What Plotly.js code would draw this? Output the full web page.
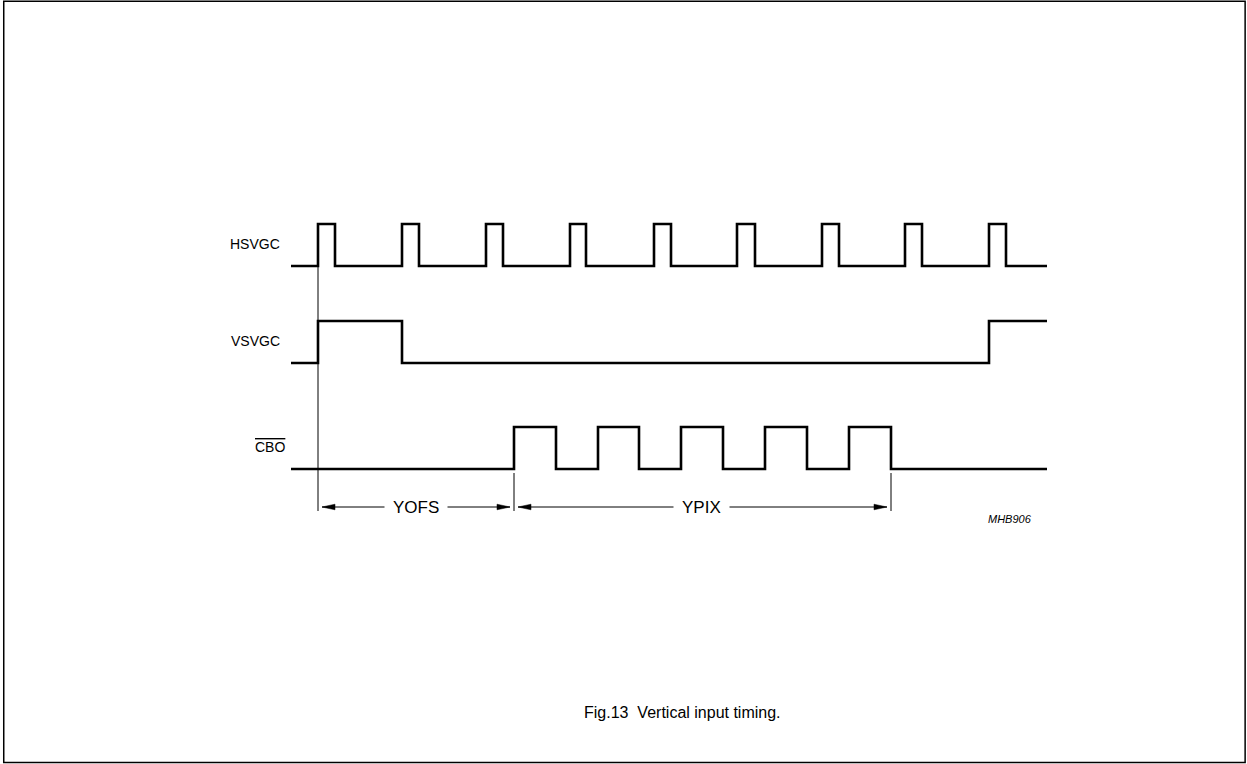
<!DOCTYPE html>
<html>
<head>
<meta charset="utf-8">
<script src="https://cdn.plot.ly/plotly-3.0.1.min.js"></script>
<style>html,body{margin:0;padding:0;background:#fff;}#chart{width:1247px;height:764px;}</style>
</head>
<body>
<div id="chart"></div>
<script>
// ---- Data (horizontal time units) ----
const signalNames = ['HSVGC', 'VSVGC', 'CBO'];
const traceStart = 291;
const traceEnd = 1047;
const hsvgcRise = [318, 402, 486, 570, 654, 737, 822, 905, 989];
const hsvgcFall = [335, 419, 503, 586, 671, 755, 839, 922, 1006];
const vsvgcRise = [318, 989];
const vsvgcFall = [402];
const cboRise = [514, 598, 681, 765, 849];
const cboFall = [556, 639, 723, 807, 891];
const refMarks = [318, 514, 891];
const spanFrom = [318, 514];
const spanTo = [514, 891];
const spanLabels = ['YOFS', 'YPIX'];
const figCode = 'MHB906';
const caption = 'Fig.13  Vertical input timing.';

// ---- Layout constants ----
const laneBase = [266, 363, 469];
const laneAmp = 42;
const labelRight = [282, 282, 287];
const arrowY = 507;
const FONT = 'Liberation Sans, Arial, sans-serif';

function waveform(rises, falls) {
  const edges = rises.map(x => [x, 1]).concat(falls.map(x => [x, 0])).sort((a, b) => a[0] - b[0]);
  const xs = [traceStart], lv = [0];
  edges.forEach(([x, l]) => { xs.push(x); lv.push(l); });
  xs.push(traceEnd); lv.push(lv[lv.length - 1]);
  return { xs, lv };
}

const waves = [waveform(hsvgcRise, hsvgcFall), waveform(vsvgcRise, vsvgcFall), waveform(cboRise, cboFall)];
const traces = waves.map((w, i) => ({
  type: 'scatter', mode: 'lines', name: signalNames[i],
  x: w.xs, y: w.lv.map(l => laneBase[i] - l * laneAmp),
  line: { shape: 'hv', color: '#000', width: 2.6 },
  hoverinfo: 'skip', showlegend: false
}));

const shapes = [];
// frame
shapes.push({ type: 'rect', xref: 'paper', yref: 'paper', x0: 0.003, x1: 0.9985, y0: 0.002, y1: 0.9985, line: { color: '#000', width: 1.5 } });
// reference lines
refMarks.forEach((x, i) => {
  const top = i === 0 ? laneBase[0] : laneBase[2] + 4;
  shapes.push({ type: 'line', x0: x, x1: x, y0: top, y1: arrowY + 4, line: { color: '#000', width: 1 } });
});
const annotations = [];
spanFrom.forEach((a, i) => {
  const b = spanTo[i];
  const x0 = a + 4, x1 = b - 4;
  shapes.push({ type: 'line', x0: x0, x1: x1, y0: arrowY, y1: arrowY, line: { color: '#000', width: 1 } });
  shapes.push({ type: 'path', path: `M ${x0},${arrowY} L ${x0 + 13},${arrowY - 2.8} L ${x0 + 13},${arrowY + 2.8} Z`, fillcolor: '#000', line: { color: '#000', width: 0.5 } });
  shapes.push({ type: 'path', path: `M ${x1},${arrowY} L ${x1 - 13},${arrowY - 2.8} L ${x1 - 13},${arrowY + 2.8} Z`, fillcolor: '#000', line: { color: '#000', width: 0.5 } });
  annotations.push({ x: (a + b) / 2 + (i === 0 ? 0 : -1), y: arrowY, text: spanLabels[i], showarrow: false, bgcolor: '#fff', borderpad: 8, font: { family: FONT, size: 17, color: '#000' } });
});
// signal labels
signalNames.forEach((n, i) => {
  const txt = n === 'CBO' ? '<span style="text-decoration:overline">CBO</span>' : n;
  annotations.push({ x: labelRight[i], y: laneBase[i] - laneAmp / 2 - 1, text: txt, xanchor: 'right', showarrow: false, font: { family: FONT, size: 14, color: '#000' } });
});
annotations.push({ x: 1034, y: 519, text: '<i>' + figCode + '</i>', xanchor: 'right', showarrow: false, font: { family: FONT, size: 11, color: '#000' } });
annotations.push({ x: 682, y: 712, text: caption, showarrow: false, font: { family: FONT, size: 16, color: '#000' } });

const layout = {
  width: 1247, height: 764,
  margin: { l: 0, r: 0, t: 0, b: 0 },
  paper_bgcolor: '#fff', plot_bgcolor: '#fff',
  xaxis: { range: [0, 1247], visible: false, fixedrange: true },
  yaxis: { range: [764, 0], visible: false, fixedrange: true },
  shapes: shapes, annotations: annotations, showlegend: false
};
Plotly.newPlot('chart', traces, layout, { staticPlot: true, displayModeBar: false });
</script>
</body>
</html>
